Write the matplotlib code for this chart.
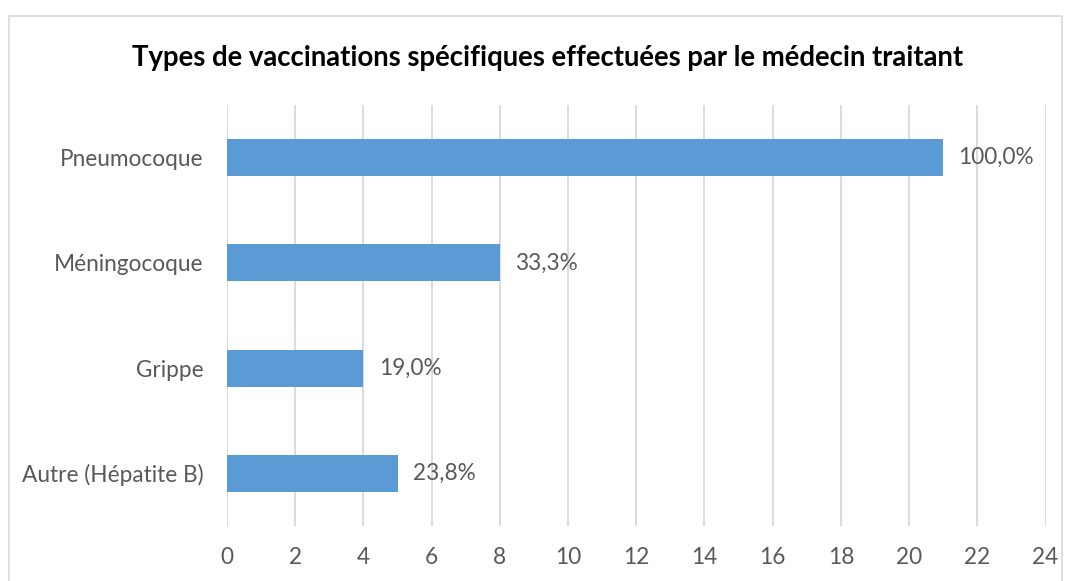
import matplotlib
matplotlib.use("Agg")
import matplotlib.pyplot as plt
from matplotlib.patches import Rectangle

categories = ["Pneumocoque", "Méningocoque", "Grippe", "Autre (Hépatite B)"]
values = [21, 8, 4, 5]
labels = ["100,0%", "33,3%", "19,0%", "23,8%"]
xticks = list(range(0, 25, 2))

plt.rcParams['font.family'] = ['Lato', 'DejaVu Sans']
W, H = 1073, 581
fig = plt.figure(figsize=(W/100, H/100), dpi=100)
ax = fig.add_axes([227/W, 1-526/H, (1045.5-227)/W, (526-105)/H])

txt = '#595959'
fs = 16.3
ypos = list(range(len(categories)))
ax.barh(ypos, values, height=0.35, color='#5B9BD5', zorder=3)
for y, v, l in zip(ypos, values, labels):
    ax.text(v + 0.45, y, l, va='center', ha='left', fontsize=fs, color=txt)

ax.set_ylim(len(categories) - 0.5, -0.5)
ax.set_yticks(ypos)
ax.set_yticklabels(categories, fontsize=fs, color=txt)
ax.set_xlim(0, 24)
ax.set_xticks(xticks)
ax.set_xticklabels([str(t) for t in xticks], fontsize=fs, color=txt)
ax.grid(axis='x', color='#D9D9D9', linewidth=1.3, zorder=0)
for s in ax.spines.values():
    s.set_visible(False)
ax.tick_params(length=0)
ax.tick_params(axis='y', pad=17)
ax.tick_params(axis='x', pad=15)

fig.text(548/W, 1-58/H, "Types de vaccinations spécifiques effectuées par le médecin traitant",
         ha='center', va='center', fontsize=19.8, fontweight='bold', color='black')

fig.patches.append(Rectangle((9/W, -0.05), (1062-9)/W, 1-16/H+0.05, transform=fig.transFigure,
                             fill=False, edgecolor='#D9D9D9', linewidth=1.2))

fig.savefig('out.png', dpi=100)
